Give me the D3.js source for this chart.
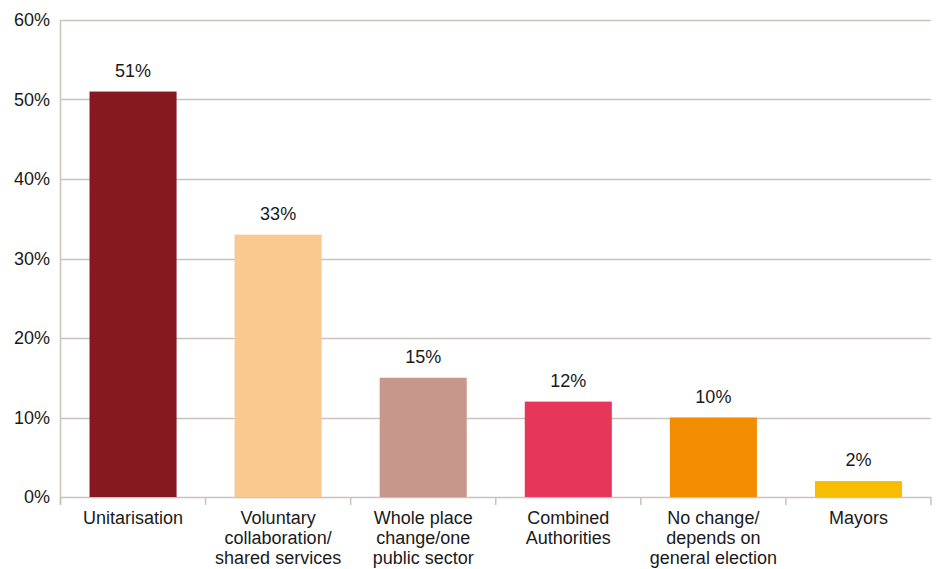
<!DOCTYPE html>
<html>
<head>
<meta charset="utf-8">
<script src="https://cdn.jsdelivr.net/npm/d3@7"></script>
<style>
  body { margin: 0; background: #fff; }
  text { font-family: "Liberation Sans", Arial, Helvetica, sans-serif; fill: #1a1a1a; }
</style>
</head>
<body>
<svg id="chart" width="939" height="569"></svg>
<script>
// --------------- Data ---------------
const categories = [
  ["Unitarisation"],
  ["Voluntary", "collaboration/", "shared services"],
  ["Whole place", "change/one", "public sector"],
  ["Combined", "Authorities"],
  ["No change/", "depends on", "general election"],
  ["Mayors"],
];
const values = [51, 33, 15, 12, 10, 2];
const barColors = ["#86181f", "#f9c98f", "#c8978c", "#e6365a", "#f28c00", "#f9bd00"];
const yTicks = [0, 10, 20, 30, 40, 50, 60];

// --------------- Layout ---------------
const margin = { top: 20, right: 8, bottom: 72, left: 60.5 };
const width = 939, height = 569;
const gridColor = "#cbc2ba";
const FONT = 18;

const svg = d3.select("#chart");

const x = d3.scaleBand()
  .domain(d3.range(categories.length))
  .range([margin.left, width - margin.right])
  .paddingInner(0.4)
  .paddingOuter(0.2);

const y = d3.scaleLinear()
  .domain([0, 60])
  .range([height - margin.bottom, margin.top]);

// gridlines
svg.append("g")
  .selectAll("line")
  .data(yTicks)
  .join("line")
  .attr("x1", margin.left)
  .attr("x2", width - margin.right)
  .attr("y1", (d) => Math.round(y(d)) + 0.5)
  .attr("y2", (d) => Math.round(y(d)) + 0.5)
  .attr("stroke", gridColor)
  .attr("stroke-width", 1.5);

// left axis line
svg.append("line")
  .attr("x1", margin.left)
  .attr("x2", margin.left)
  .attr("y1", y(60))
  .attr("y2", y(0) + 8)
  .attr("stroke", gridColor)
  .attr("stroke-width", 1.5);

// category boundary ticks
const step = x.step();
const boundaries = d3.range(categories.length + 1).map((i) =>
  i === 0 ? margin.left : i === categories.length ? width - margin.right
    : x(i) - step * x.paddingInner() / 2);
svg.append("g")
  .selectAll("line")
  .data(boundaries)
  .join("line")
  .attr("x1", (d) => d)
  .attr("x2", (d) => d)
  .attr("y1", y(0))
  .attr("y2", y(0) + 8)
  .attr("stroke", gridColor)
  .attr("stroke-width", 1.5);

// y tick labels
svg.append("g")
  .selectAll("text")
  .data(yTicks)
  .join("text")
  .attr("x", 50)
  .attr("y", (d) => y(d))
  .attr("dy", "0.35em")
  .attr("text-anchor", "end")
  .attr("font-size", FONT)
  .text((d) => d + "%");

// bars
svg.append("g")
  .selectAll("rect")
  .data(values)
  .join("rect")
  .attr("x", (d, i) => x(i))
  .attr("width", x.bandwidth())
  .attr("y", (d) => y(d))
  .attr("height", (d) => y(0) - y(d))
  .attr("fill", (d, i) => barColors[i]);

// value labels
svg.append("g")
  .selectAll("text")
  .data(values)
  .join("text")
  .attr("x", (d, i) => x(i) + x.bandwidth() / 2)
  .attr("y", (d) => y(d) - 15)
  .attr("text-anchor", "middle")
  .attr("font-size", FONT)
  .text((d) => d + "%");

// category labels
const catLabels = svg.append("g")
  .selectAll("text")
  .data(categories)
  .join("text")
  .attr("x", (d, i) => x(i) + x.bandwidth() / 2)
  .attr("y", y(0) + 27)
  .attr("text-anchor", "middle")
  .attr("font-size", FONT);

catLabels.selectAll("tspan")
  .data((d) => d)
  .join("tspan")
  .attr("x", function () { return d3.select(this.parentNode).attr("x"); })
  .attr("dy", (d, i) => (i === 0 ? 0 : 20))
  .text((d) => d);
</script>
</body>
</html>
